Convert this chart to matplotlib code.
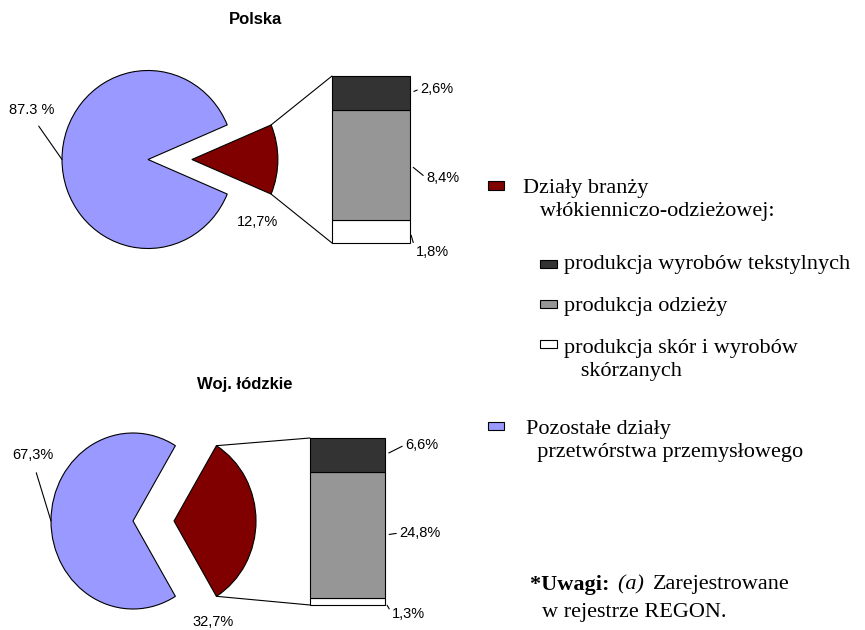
import matplotlib
matplotlib.use("Agg")
import numpy as np
import matplotlib.pyplot as plt
from matplotlib.patches import Rectangle, ConnectionPatch

W, H = 865, 630

# data
pie_titles = ["Polska", "Woj. łódzkie"]
branza = [12.7, 32.7]            # działy branży włókienniczo-odzieżowej
pozostale = [87.3, 67.3]         # pozostałe działy
tekstylne = [2.6, 6.6]
odziez = [8.4, 24.8]
skory = [1.8, 1.3]
pie_labels = [["12,7%", "87.3 %"], ["32,7%", "67,3%"]]
bar_labels = [["2,6%", "8,4%", "1,8%"], ["6,6%", "24,8%", "1,3%"]]
legend_labels = ["Działy branży\n   włókienniczo-odzieżowej:",
                 "produkcja wyrobów tekstylnych",
                 "produkcja odzieży",
                 "produkcja skór i wyrobów\n   skórzanych",
                 "Pozostałe działy\n  przetwórstwa przemysłowego"]

c_red = "#800000"
c_blue = "#9999FF"
c_dark = "#333333"
c_gray = "#969696"
c_white = "#FFFFFF"

fig = plt.figure(figsize=(W / 100, H / 100), dpi=100)


def px_axes(left, top, w, h):
    return fig.add_axes([left / W, 1 - (top + h) / H, w / W, h / H])


sans = "Liberation Sans"
serif = "Liberation Serif"
lab_fs = 10.5

# layout per panel: pie center, rx, ry, explode, bar box, title pos
panels = [
    dict(cx=148, cy=159.5, rx=86, ry=89, expl=0.51, bar=(332, 76, 78, 167),
         title=(255, 20), lab_in=(257, 222), lab_out_off=(-30, 50),
         bar_off=[(10, 4), (16, -13), (6, -21)]),
    dict(cx=133, cy=521, rx=82, ry=88, expl=0.5, bar=(310, 438, 75, 167),
         title=(245, 385), lab_in=(213, 622), lab_out_off=(-18, 66),
         bar_off=[(20, 10), (14, 2), (7, -12)]),
]

ov = fig.add_axes([0, 0, 1, 1])
ov.set_xlim(0, W)
ov.set_ylim(H, 0)
ov.axis("off")

for i, p in enumerate(panels):
    # pie
    pax = px_axes(p["cx"] - 1.1 * p["rx"], p["cy"] - 1.1 * p["ry"],
                  2.9 * p["rx"], 2.2 * p["ry"])
    start = -branza[i] / 100 * 180
    pax.pie([branza[i], pozostale[i]], colors=[c_red, c_blue],
            explode=[p["expl"], 0], startangle=start, radius=1,
            wedgeprops=dict(edgecolor="black", linewidth=0.8))
    pax.set_aspect("auto")
    pax.set_xlim(-1.1, 1.8)
    pax.set_ylim(-1.1, 1.1)
    pax.axis("off")

    # stacked bar
    bx, by, bw, bh = p["bar"]
    bax = px_axes(bx, by, bw, bh)
    segs = [skory[i], odziez[i], tekstylne[i]]
    cols = [c_white, c_gray, c_dark]
    bottom = 0
    centers = []
    for v, c in zip(segs, cols):
        bax.bar(0.5, v, width=1, bottom=bottom, color=c, edgecolor="black",
                linewidth=0.8, clip_on=False)
        centers.append(bottom + v / 2)
        bottom += v
    bax.set_xlim(0, 1)
    bax.set_ylim(0, bottom)
    bax.axis("off")

    # connection lines wedge -> bar
    t1 = np.deg2rad(start)
    t2 = np.deg2rad(start + branza[i] * 3.6)
    for t, yb in [(t2, bottom), (t1, 0)]:
        con = ConnectionPatch(xyA=(p["expl"] + np.cos(t), np.sin(t)), coordsA=pax.transData,
                              xyB=(0, yb), coordsB=bax.transData,
                              color="black", linewidth=0.8)
        fig.add_artist(con)

    # bar labels (top to bottom)
    for lab, yc, off in zip(bar_labels[i], centers[::-1], p["bar_off"]):
        bax.annotate(lab, xy=(1, yc), xytext=off, textcoords="offset pixels",
                     ha="left", va="center", fontsize=lab_fs, family=sans,
                     arrowprops=dict(arrowstyle="-", lw=0.8, color="black",
                                     shrinkA=0, shrinkB=3, relpos=(0, 0.5)),
                     annotation_clip=False)

    # pie labels
    pax.annotate(pie_labels[i][1], xy=(-1, 0), xytext=p["lab_out_off"],
                 textcoords="offset pixels", ha="center", va="center",
                 fontsize=lab_fs, family=sans,
                 arrowprops=dict(arrowstyle="-", lw=0.8, color="black",
                                 shrinkA=6, shrinkB=0, relpos=(0.5, 0)),
                 annotation_clip=False)
    ov.text(p["lab_in"][0], p["lab_in"][1], pie_labels[i][0], ha="center",
            va="center", fontsize=lab_fs, family=sans)

    ov.text(p["title"][0], p["title"][1], pie_titles[i], ha="center",
            va="center", fontsize=12, fontweight="bold", family=sans)

# legend
leg_fs = 16
leg_items = [
    (c_red, (488, 181, 16, 9), (523, 187)),
    (c_dark, (540, 260, 17, 8), (564, 263)),
    (c_gray, (540, 300, 17, 8), (564, 305)),
    (c_white, (540, 340, 17, 8), (564, 347)),
    (c_blue, (488, 422, 16, 8), (526, 428)),
]
for (c, (x, y, w, h), (tx, ty)), lab in zip(leg_items, legend_labels):
    ov.add_patch(Rectangle((x, y), w, h, facecolor=c, edgecolor="black", lw=0.8))
    ov.text(tx, ty - 8, lab, ha="left", va="top", fontsize=leg_fs,
            family=serif, linespacing=1.32)

# note, mixed styles chained one after another
fig.canvas.draw()
renderer = fig.canvas.get_renderer()
x = 530
for part, kw in [("*Uwagi: ", dict(fontweight="bold")),
                 ("(a) ", dict(style="italic")),
                 ("Zarejestrowane", dict())]:
    t = ov.text(x, 585, part, ha="left", va="center", fontsize=leg_fs,
                family=serif, **kw)
    bb = t.get_window_extent(renderer)
    x += bb.width + 3
ov.text(542, 612, "w rejestrze REGON.", ha="left", va="center",
        fontsize=leg_fs, family=serif)

fig.savefig("out.png", dpi=100)
